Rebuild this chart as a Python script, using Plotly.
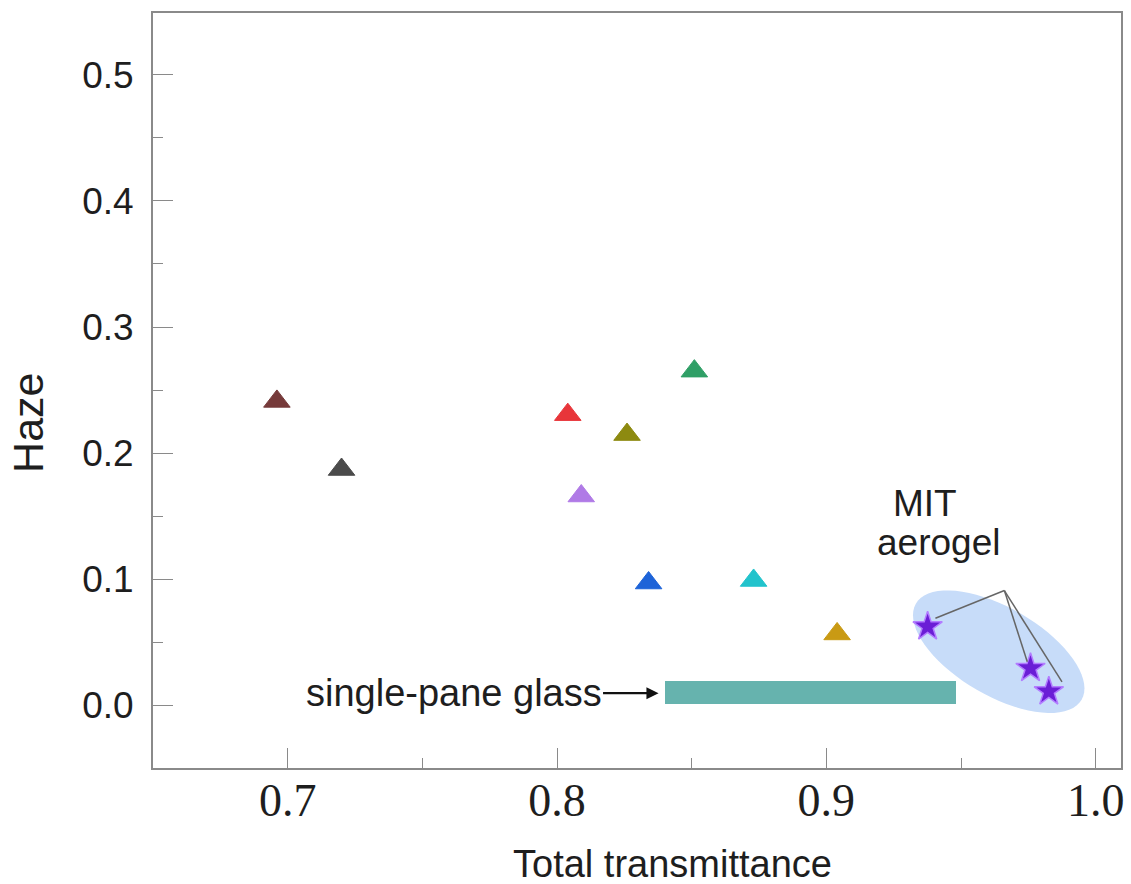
import numpy as np
import plotly.graph_objects as go

# ---- data ----
sample_T = [0.696, 0.720, 0.804, 0.809, 0.826, 0.834, 0.851, 0.873, 0.904]
sample_haze = [0.241, 0.187, 0.2305, 0.166, 0.2147, 0.097, 0.265, 0.099, 0.0566]
sample_colors = ["#763a3a", "#4b4b4b", "#e8353a", "#b07ae6", "#8d8a10",
                 "#1d63d8", "#2f9f66", "#22c3cc", "#c99a14"]

aerogel_T = [0.9376, 0.9758, 0.9826]
aerogel_haze = [0.0624, 0.0294, 0.0109]

glass_T_min = 0.840
glass_T_max = 0.948
glass_haze = 0.0101
glass_thickness = 0.0185

x_range = [0.650, 1.0094]
y_range = [-0.0497, 0.549]

# figure / plot area geometry (pixels)
W, H = 1131, 884
ML, MR, MT, MB = 153, 7, 13, 116
PW, PH = W - ML - MR, H - MT - MB
sx = PW / (x_range[1] - x_range[0])   # px per unit x
sy = PH / (y_range[1] - y_range[0])   # px per unit y

fig = go.Figure()

# single-pane glass bar
fig.add_trace(go.Bar(
    orientation="h",
    base=[glass_T_min], x=[glass_T_max - glass_T_min], y=[glass_haze],
    width=[glass_thickness],
    marker=dict(color="#66b3ae", line=dict(width=0)),
    showlegend=False, hoverinfo="skip"))

# samples (triangles)
fig.add_trace(go.Scatter(
    x=sample_T, y=sample_haze, mode="markers",
    marker=dict(symbol="triangle-up", size=23, color=sample_colors,
                line=dict(width=1, color=sample_colors)),
    showlegend=False))

# MIT aerogel (stars)
fig.add_trace(go.Scatter(
    x=aerogel_T, y=aerogel_haze, mode="markers",
    marker=dict(symbol="star", size=22, color="#6a1ed6",
                line=dict(width=1.5, color="#b27cff")),
    showlegend=False))

# ellipse around the aerogel points (computed in pixel space, converted to data)
ell_cx, ell_cy = 0.9640, 0.0425
ell_a, ell_b, ell_ang = 96, 44, np.deg2rad(-30)
t = np.linspace(0, 2 * np.pi, 73)
px = ell_a * np.cos(t) * np.cos(ell_ang) - ell_b * np.sin(t) * np.sin(ell_ang)
py = ell_a * np.cos(t) * np.sin(ell_ang) + ell_b * np.sin(t) * np.cos(ell_ang)
ex = ell_cx + px / sx
ey = ell_cy + py / sy
path = "M " + " L ".join(f"{a:.5f},{b:.5f}" for a, b in zip(ex, ey)) + " Z"
fig.add_shape(type="path", path=path, xref="x", yref="y",
              fillcolor="#c7dcf9", line=dict(width=0), layer="below")

# leader lines from label to stars
apex = (0.9661, 0.0910)
ends = [(0.9405, 0.0690), (0.9746, 0.0345), (0.9875, 0.0186)]
for ex_, ey_ in ends:
    fig.add_shape(type="line", x0=apex[0], y0=apex[1], x1=ex_, y1=ey_,
                  xref="x", yref="y", line=dict(color="#666666", width=1.5))

txt_font = dict(family="Liberation Sans, Arial, sans-serif", color="#1e1e1e")

fig.add_annotation(x=0.9368, y=0.1600, xref="x", yref="y", text="MIT",
                   xanchor="center", yanchor="middle",
                   showarrow=False, font=dict(size=37, **txt_font))
fig.add_annotation(x=0.9416, y=0.1295, xref="x", yref="y", text="aerogel",
                   xanchor="center", yanchor="middle",
                   showarrow=False, font=dict(size=37, **txt_font))

# single-pane glass label with arrow
fig.add_annotation(x=0.8377, y=0.0096, xref="x", yref="y",
                   text="single-pane glass", showarrow=True,
                   ax=-205, ay=0, axref="pixel", ayref="pixel",
                   arrowhead=2, arrowsize=1.1, arrowwidth=2.2, arrowcolor="#111111",
                   font=dict(size=38, **txt_font))

# axis titles as annotations
fig.add_annotation(x=(27.5 - ML) / PW, y=(H - MB - 423) / PH, xref="paper", yref="paper",
                   text="Haze", textangle=-90, showarrow=False,
                   xanchor="center", yanchor="middle",
                   font=dict(size=43, **txt_font))
fig.add_annotation(x=(674 - ML) / PW, y=(H - MB - 864) / PH, xref="paper", yref="paper",
                   text="Total transmittance", showarrow=False,
                   xanchor="center", yanchor="middle",
                   font=dict(size=38, **txt_font))

axis_common = dict(showline=True, linecolor="#8a8a8a", linewidth=2, mirror=True,
                   showgrid=False, zeroline=False,
                   ticks="inside", ticklen=20, tickwidth=1.2, tickcolor="#8a8a8a")

fig.update_xaxes(range=x_range, dtick=0.1, tick0=0.7, tickformat=".1f",
                 tickfont=dict(family="Liberation Serif, Times New Roman, serif",
                               size=46, color="#1e1e1e"),
                 minor=dict(dtick=0.05, tick0=0.0, ticks="inside", ticklen=10,
                            tickwidth=1.2, tickcolor="#8a8a8a"),
                 ticklabelstandoff=-9,
                 **axis_common)
fig.update_yaxes(range=y_range, dtick=0.1, tick0=0.0, tickformat=".1f",
                 tickfont=dict(family="Liberation Sans, Arial, sans-serif",
                               size=37, color="#1e1e1e"),
                 minor=dict(dtick=0.05, tick0=0.0, ticks="inside", ticklen=10,
                            tickwidth=1.2, tickcolor="#8a8a8a"),
                 ticklabelstandoff=10,
                 **axis_common)

fig.update_layout(width=W, height=H, margin=dict(l=ML, r=MR, t=MT, b=MB),
                  paper_bgcolor="white", plot_bgcolor="white",
                  showlegend=False, bargap=0)

fig.write_html("out.html")
